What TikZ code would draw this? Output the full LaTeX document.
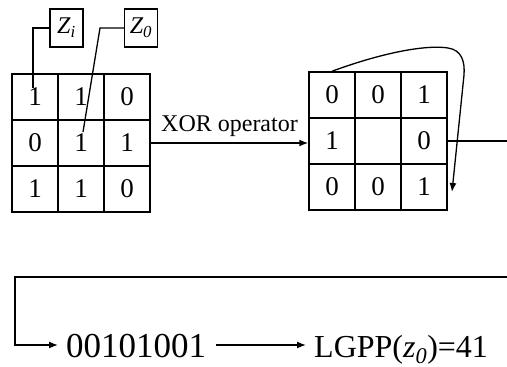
\documentclass[tikz,border=0pt]{standalone}
\usepackage{fontspec}
\setmainfont{Liberation Serif}
\usetikzlibrary{arrows.meta}
\begin{document}
\begin{tikzpicture}[x=1pt,y=-1pt,
 cell/.style={draw, line width=1.5pt, minimum width=46pt, minimum height=46pt, inner sep=0pt, font=\fontsize{27}{29}\selectfont},
 zbox/.style={draw, line width=1.5pt, minimum width=33pt, minimum height=38pt, inner sep=0pt, font=\fontsize{24}{26}\selectfont},
 conn/.style={line width=1.3pt},
 arr/.style={conn, -{Latex[length=9pt,width=7pt]}},
 bigtext/.style={inner sep=0pt, font=\fontsize{35}{38}\selectfont, text height=24pt, text depth=0pt}]
\useasboundingbox (0,0) rectangle (507,367);
% left grid
\node[cell] (L11) at (35,97) {1};
\node[cell] (L12) at (81,97) {1};
\node[cell] (L13) at (127,97) {0};
\node[cell] (L21) at (35,143) {0};
\node[cell] (L22) at (81,143) {1};
\node[cell] (L23) at (127,143) {1};
\node[cell] (L31) at (35,189) {1};
\node[cell] (L32) at (81,189) {1};
\node[cell] (L33) at (127,189) {0};
% right grid
\node[cell] (R11) at (332,95) {0};
\node[cell] (R12) at (378,95) {0};
\node[cell] (R13) at (424,95) {1};
\node[cell] (R21) at (332,141) {1};
\node[cell] (R22) at (378,141) {};
\node[cell] (R23) at (424,141) {0};
\node[cell] (R31) at (332,187) {0};
\node[cell] (R32) at (378,187) {0};
\node[cell] (R33) at (424,187) {1};
% Z boxes
\node[zbox] (zi) at (66.5,28) {\itshape Z\textsubscript{\itshape i}};
\node[zbox] (z0) at (141,28) {\itshape Z\textsubscript{\itshape 0}};
\coordinate (zia) at (33,88);
\coordinate (z0b) at (100,28);
\coordinate (z0a) at (83,132);
\draw[conn] (zi.west) -| (zia);
\draw[conn] (z0.west) -- (z0b) -- (z0a);
% XOR arrow
\draw[arr] (L23.east) -- (L23.east -| R21.west) node[midway, above=2pt, font=\fontsize{24}{26}\selectfont] {XOR operator};
% curved arrow
\coordinate (cpeak) at (448,48);
\coordinate (cside) at (464,75);
\coordinate (ctip) at (452,192);
\draw[arr] (R11.north) .. controls (390,50) and (430,45) .. (cpeak) .. controls (462,50) and (465,62) .. (cside) -- (ctip);
% output line
\coordinate (outr) at (507,141);
\draw[conn] (R23.east) -- (outr);
% bottom
\node[bigtext, anchor=base west] (bits) at (66,357) {00101001};
\node[bigtext, anchor=base west, font=\fontsize{32}{35}\selectfont] (lgpp) at (314,357) {LGPP(\textit{z}\textsubscript{\textit{0}})=41};
\coordinate (inr) at (507,277);
\coordinate (inl) at (15,277);
\draw[arr] (inr) -- (inl) |- ([xshift=-8pt]bits.west);
\draw[arr] ([xshift=10pt]bits.east) -- ([xshift=-8pt]bits.east -| lgpp.west);
\end{tikzpicture}
\end{document}
